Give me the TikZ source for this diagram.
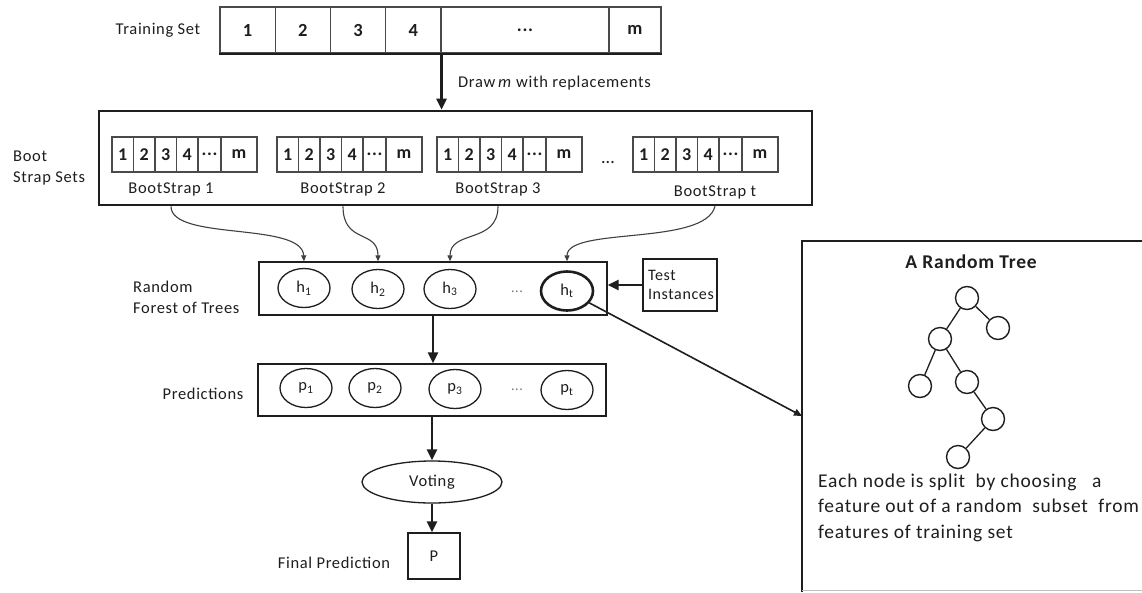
\documentclass[tikz,border=0pt]{standalone}
\usepackage{fontspec}
\setmainfont{Carlito}[LetterSpace=4]
\usetikzlibrary{arrows.meta,shapes.geometric}

\definecolor{ink}{HTML}{1E1E1E}
\definecolor{cellline}{HTML}{4A4A4A}

% six cells of one bootstrap sample, #1 = name prefix, #2 = left x
\newcommand\bootcells[2]{%
  \node[bcell, minimum width=21.5] (#1a) at (#2+10.75,154.5) {1};
  \node[bcell, minimum width=21.5] (#1b) at (#2+32.25,154.5) {2};
  \node[bcell, minimum width=21.5] (#1c) at (#2+53.75,154.5) {3};
  \node[bcell, minimum width=21.5] (#1d) at (#2+75.25,154.5) {4};
  \node[bcell, minimum width=23]   (#1e) at (#2+97.5,154.5) {...};
  \node[bcell, minimum width=36]   (#1f) at (#2+127,154.5) {m};
  \draw[cellline, line width=1.8] (#1a.south west) -- (#1f.south east);
}

\begin{document}
\begin{tikzpicture}[x=1pt,y=-1pt,
  lbl/.style={font=\fontsize{16.5}{21}\selectfont, text=ink, inner sep=0pt},
  tcell/.style={draw=cellline, line width=1.1, minimum height=46, inner sep=0pt,
    font=\fontsize{18.5}{20}\selectfont\bfseries, text=ink},
  bcell/.style={draw=cellline, line width=1.1, minimum height=35, inner sep=0pt,
    font=\fontsize{18}{20}\selectfont\bfseries, text=ink},
  band/.style={draw=ink, line width=1.3, inner sep=0pt},
  hnode/.style={ellipse, draw=ink, line width=1.3, minimum width=52, minimum height=39,
    inner sep=0pt, font=\fontsize{16.5}{18}\selectfont, text=ink},
  softdots/.style={font=\fontsize{14}{16}\selectfont, text=black!55, inner sep=0pt},
  treenode/.style={circle, draw=ink, line width=1.4, minimum size=23, inner sep=0pt},
  bigarrow/.style={draw=ink, line width=2.6, -{Triangle[length=11pt,width=10pt]}},
  curvearrow/.style={draw=ink!85, line width=1.1, -{Triangle[length=6pt,width=5pt]}},
  thinarrow/.style={draw=ink, line width=1.6, -{Triangle[length=8pt,width=7pt]}}]

\useasboundingbox (0,0) rectangle (1142,592);
\fill[white] (0,0) rectangle (1142,592);

% ---- training set ----
\node[lbl] (trainlbl) at (158,30) {Training Set};
\node[tcell, minimum width=55.25] (t1) at (247.6,30) {1};
\node[tcell, minimum width=55.25] (t2) at (302.9,30) {2};
\node[tcell, minimum width=55.25] (t3) at (358.1,30) {3};
\node[tcell, minimum width=55.25] (t4) at (413.4,30) {4};
\node[tcell, minimum width=168]   (t5) at (525,30) {...};
\node[tcell, minimum width=52]    (tm) at (635,30) {m};
\draw[ink, line width=2] (t1.south west) -- (tm.south east);

\node[lbl, anchor=west] (drawlbl) at (458,83) {Draw\,\textit{m} with replacements};

% ---- bootstrap sets ----
\node[draw=ink, line width=2.6, minimum width=713, minimum height=94, inner sep=0pt] (boot) at (455.5,158) {};
\draw[bigarrow] (t4.south east) -- (t4.south east |- boot.north);
\node[lbl, anchor=west, align=left] (bootlbl) at (13,168) {Boot\\Strap Sets};

\bootcells{s1}{112}
\bootcells{s2}{277}
\bootcells{s3}{437}
\bootcells{st}{633}
\node[font=\fontsize{15}{17}\selectfont\bfseries, text=ink, inner sep=0pt] (sdots) at (608,162) {...};

\node[lbl] (bl1) at (171,189) {BootStrap 1};
\node[lbl] (bl2) at (343,189) {BootStrap 2};
\node[lbl] (bl3) at (498,189) {BootStrap 3};
\node[lbl] (blt) at (715,192) {BootStrap t};

% ---- random forest ----
\node[band, minimum width=348, minimum height=53] (forest) at (433,288.5) {};
\node[lbl, anchor=west, align=left] (forestlbl) at (133,297) {Random\\Forest of Trees};
\node[hnode] (h1) at (304,288) {h\textsubscript{1}};
\node[hnode] (h2) at (378,289) {h\textsubscript{2}};
\node[hnode] (h3) at (450,289) {h\textsubscript{3}};
\node[softdots] (hdots) at (517,292) {...};
\node[hnode, line width=2.6] (ht) at (567,291) {h\textsubscript{t}};

\draw[curvearrow] (bl1 |- boot.south) .. controls +(0,35) and +(-2,-40) .. (h1.north |- forest.north);
\draw[curvearrow] (bl2 |- boot.south) .. controls +(0,38) and +(0,-32) .. (h2.north |- forest.north);
\draw[curvearrow] (bl3 |- boot.south) .. controls +(0,38) and +(0,-32) .. (h3.north |- forest.north);
\draw[curvearrow] (blt |- boot.south) .. controls +(-10,40) and +(0,-35) .. (ht.north |- forest.north);

% ---- test instances ----
\node[band, text width=64, inner xsep=5, inner ysep=5, align=left, minimum height=52,
  font=\fontsize{16}{19}\selectfont, text=ink] (test) at (680,285) {Test\\Instances};
\draw[bigarrow] (test.west) -- (test.west -| forest.east);

% ---- predictions ----
\node[band, minimum width=348, minimum height=52] (pred) at (432,390) {};
\node[lbl] (predlbl) at (203,394) {Predictions};
\node[hnode] (p1) at (306,388) {p\textsubscript{1}};
\node[hnode] (p2) at (375,388) {p\textsubscript{2}};
\node[hnode] (p3) at (455,389) {p\textsubscript{3}};
\node[softdots] (pdots) at (517,390) {...};
\node[hnode] (pt) at (567,390) {p\textsubscript{t}};
\draw[bigarrow] (forest.south) -- (forest.south |- pred.north);

% ---- voting and final prediction ----
\node[ellipse, draw=ink, line width=1.3, minimum width=140, minimum height=42, inner sep=0pt,
  font=\fontsize{16.5}{19}\selectfont, text=ink] (vote) at (432,482) {Voting};
\draw[bigarrow] (pred.south -| vote.north) -- (vote.north);
\node[band, minimum width=52, minimum height=46, font=\fontsize{16.5}{19}\selectfont, text=ink] (final) at (434,556) {P};
\draw[bigarrow] (vote.south) -- (vote.south |- final.north);
\node[lbl] (finallbl) at (334,563) {Final Prediction};

% ---- random tree panel ----
\draw[ink, line width=1.3] (1150,241) -- (802,241) -- (802,592);
\draw[black!25, line width=1] (802,590) -- (1150,590);
\coordinate (panelin) at (802,416);
\draw[thinarrow] (ht) -- (panelin);

\node[font=\fontsize{19.5}{22}\selectfont\bfseries, text=ink, inner sep=0pt] (treetitle) at (971,262) {A Random Tree};
\node[treenode] (n0) at (967,298) {};
\node[treenode] (n1) at (998,328) {};
\node[treenode] (n2) at (940,339) {};
\node[treenode] (n3) at (920,386) {};
\node[treenode] (n4) at (967,382) {};
\node[treenode] (n5) at (993,419) {};
\node[treenode] (n6) at (958,457) {};
\draw[ink, line width=1.3] (n0) -- (n1) (n0) -- (n2) (n2) -- (n3) (n2) -- (n4) (n4) -- (n5) (n5) -- (n6);

% the node's base is the baseline of its last line
\node[anchor=base west, align=left, inner sep=0pt, text=ink,
  font=\fontsize{19.5}{25.5}\selectfont] (treetext) at (818,538)
  {Each node is split \ by choosing \ \ a\\feature out of a random \ subset \ from\\features of training set};
\end{tikzpicture}
\end{document}
